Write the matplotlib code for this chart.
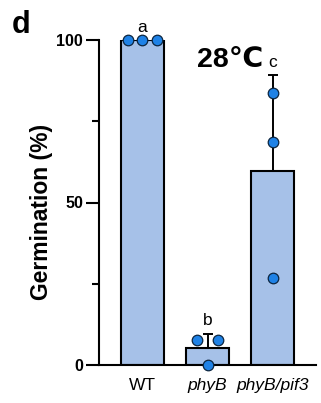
import numpy as np
from matplotlib import pyplot as plt
from matplotlib.ticker import MultipleLocator

plt.rcParams['font.family'] = ['Liberation Sans', 'DejaVu Sans']

# данные
genotypes = ['WT', 'phyB', 'phyB/pif3']
replicates = [
    [100.0, 100.0, 100.0],
    [7.7, 7.7, 0.0],
    [83.6, 68.7, 26.9],
]
letters = ['a', 'b', 'c']
title = '28℃'

BAR_COLOR = '#a6c1e8'
DOT_COLOR = '#1f82e6'


def spread(values, step):
    # раздвигаем точки с одинаковым значением, как в GraphPad
    values = np.asarray(values)
    offsets = np.zeros(len(values))
    for v in np.unique(values):
        idx = np.where(values == v)[0]
        n = len(idx)
        if n > 1:
            offsets[idx] = (np.arange(n) - (n - 1) / 2) * step[n]
    return offsets


def build_graphics(output_png):
    fig = plt.figure(figsize=(3.21, 4.03), dpi=100)
    ax = fig.add_axes([99 / 321, 38 / 403, 217 / 321, 325 / 403])

    x = np.arange(len(genotypes))
    means = np.array([np.mean(r) for r in replicates])
    sds = np.array([np.std(r, ddof=1) for r in replicates])

    ax.bar(x, means, width=0.67, color=BAR_COLOR, edgecolor='black',
           linewidth=1.5, zorder=1)
    ax.errorbar(x, means, yerr=[np.zeros_like(sds), sds], fmt='none',
                ecolor='black', elinewidth=1.4, capsize=3.4, capthick=1.4,
                zorder=2, clip_on=False)

    for i, vals in enumerate(replicates):
        off = spread(vals, {2: 0.32, 3: 0.22})
        ax.plot(x[i] + off, vals, 'o', ms=7.6, mfc=DOT_COLOR, mec='#0b2540',
                mew=0.9, zorder=3, clip_on=False)

    for i, lab in enumerate(letters):
        top = means[i] + sds[i]
        ax.text(x[i], top + 2.6, lab, ha='center', va='baseline',
                fontsize=12.5)

    ax.text(1.34, 91.7, title, ha='center', va='baseline', fontsize=20.5,
            fontweight='bold')

    ax.set_xlim(-0.667, 2.667)
    ax.set_ylim(0, 100)
    ax.yaxis.set_major_locator(MultipleLocator(50))
    ax.yaxis.set_minor_locator(MultipleLocator(25))
    ax.set_xticks(x)
    ax.set_xticklabels(genotypes, fontsize=12.5)
    for lbl in ax.get_xticklabels()[1:]:
        lbl.set_fontstyle('italic')
    for lbl in ax.get_yticklabels():
        lbl.set_fontweight('bold')
        lbl.set_fontsize(11.5)

    ax.tick_params(axis='x', length=0, pad=9.5)
    ax.tick_params(axis='y', which='major', length=9.4, width=1.5, pad=2)
    ax.tick_params(axis='y', which='minor', length=5, width=1.5)
    for side in ('top', 'right'):
        ax.spines[side].set_visible(False)
    for side in ('left', 'bottom'):
        ax.spines[side].set_linewidth(1.5)

    ax.set_ylabel('Germination (%)', fontsize=16.5, fontweight='bold')
    ax.yaxis.set_label_coords(-0.212, 0.47)

    fig.text(12 / 321, 1 - 33 / 403, 'd', fontsize=22, fontweight='bold',
             va='baseline')

    fig.savefig(output_png, dpi=100)


def main():
    build_graphics('out.png')


if __name__ == '__main__':
    main()
